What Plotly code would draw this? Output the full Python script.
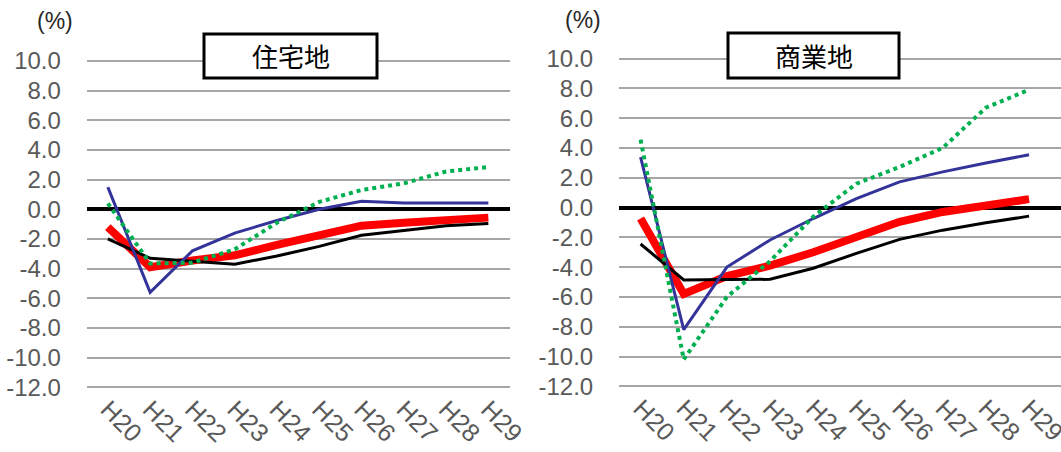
import plotly.graph_objects as go

W, H = 1061, 452

years = ["H20", "H21", "H22", "H23", "H24", "H25", "H26", "H27", "H28", "H29"]
y_ticks = [10, 8, 6, 4, 2, 0, -2, -4, -6, -8, -10, -12]
y_tick_text = ["10.0", "8.0", "6.0", "4.0", "2.0", "0.0", "-2.0", "-4.0", "-6.0", "-8.0", "-10.0", "-12.0"]

# 住宅地 (residential)
res_red = [-1.2, -3.9, -3.45, -3.1, -2.4, -1.7, -1.1, -0.9, -0.72, -0.56]
res_black = [-2.0, -3.3, -3.5, -3.7, -3.15, -2.5, -1.75, -1.4, -1.1, -0.95]
res_blue = [1.5, -5.6, -2.8, -1.6, -0.75, 0.0, 0.55, 0.42, 0.42, 0.42]
res_green = [0.4, -3.65, -3.6, -2.7, -0.9, 0.5, 1.3, 1.75, 2.55, 2.85]

# 商業地 (commercial)
com_red = [-0.74, -5.8, -4.6, -3.9, -3.0, -2.0, -0.96, -0.3, 0.15, 0.56]
com_black = [-2.45, -4.86, -4.84, -4.82, -4.08, -3.08, -2.14, -1.52, -1.03, -0.58]
com_blue = [3.38, -8.2, -4.0, -2.18, -0.74, 0.6, 1.72, 2.39, 2.99, 3.54]
com_green = [4.55, -10.2, -6.0, -3.6, -0.62, 1.6, 2.72, 4.0, 6.7, 7.9]

titles = ["住宅地", "商業地"]

RED = "#FF0000"
BLACK = "#000000"
BLUE = "#333399"
GREEN = "#00B050"
GRID = "#A6A6A6"
LABEL = "#595959"
FONT = "Liberation Sans, Arial, sans-serif"
CJK = "Noto Sans CJK JP, sans-serif"

fig = go.Figure()

series = [
    (res_red, com_red, RED, 8, "solid"),
    (res_black, com_black, BLACK, 3, "solid"),
    (res_blue, com_blue, BLUE, 3, "solid"),
    (res_green, com_green, GREEN, 4, "dot"),
]
for left, right, color, width, dash in series:
    fig.add_trace(go.Scatter(x=years, y=left, mode="lines", xaxis="x", yaxis="y",
                             line=dict(color=color, width=width, dash=dash), showlegend=False))
    fig.add_trace(go.Scatter(x=years, y=right, mode="lines", xaxis="x2", yaxis="y2",
                             line=dict(color=color, width=width, dash=dash), showlegend=False))


def ydomain(top_px, bot_px, pad=0.1):
    ppu = (bot_px - top_px) / 22.0
    t = top_px - pad * ppu
    b = bot_px + pad * ppu
    return [1 - b / H, 1 - t / H]


yax = dict(range=[-12.1, 10.1], tickvals=y_ticks, ticktext=y_tick_text,
           showgrid=True, gridcolor=GRID, gridwidth=1.5,
           zeroline=True, zerolinecolor=BLACK, zerolinewidth=4,
           ticks="outside", ticklen=20, tickcolor="rgba(0,0,0,0)", automargin=False,
           tickfont=dict(family=FONT, size=24, color=LABEL), showline=False, fixedrange=True)
xax = dict(type="category", showgrid=False, zeroline=False, showline=False, automargin=False,
           ticks="", tickangle=45,
           tickfont=dict(family=FONT, size=25, color=LABEL), fixedrange=True)

fig.update_layout(
    template="none",
    width=W, height=H,
    margin=dict(l=0, r=0, t=0, b=0, pad=0, autoexpand=False),
    paper_bgcolor="white", plot_bgcolor="white",
    xaxis=dict(xax, domain=[86.7 / W, 509.5 / W], anchor="y", range=[-0.5, 9.5]),
    yaxis=dict(yax, domain=ydomain(61, 387.3), anchor="x"),
    xaxis2=dict(xax, domain=[619 / W, 1.0], anchor="y2", range=[-0.5, 9.74]),
    yaxis2=dict(yax, domain=ydomain(58.5, 386.3), anchor="x2"),
)

boxes = [(204, 34, 377, 78), (728, 33, 899, 78)]
for (x0, y0, x1, y1), t in zip(boxes, titles):
    fig.add_shape(type="rect", xref="paper", yref="paper",
                  x0=x0 / W, x1=x1 / W, y0=1 - y1 / H, y1=1 - y0 / H,
                  line=dict(color=BLACK, width=3), fillcolor="white", layer="above")
    fig.add_annotation(xref="paper", yref="paper", x=(x0 + x1) / 2 / W, y=1 - (y0 + y1) / 2 / H,
                       text=t, showarrow=False, xanchor="center", yanchor="middle",
                       font=dict(family=CJK, size=26, color=BLACK))

for cx, cy in [(55, 21), (583, 20)]:
    fig.add_annotation(xref="paper", yref="paper", x=cx / W, y=1 - cy / H,
                       text="(%)", showarrow=False, xanchor="center", yanchor="middle",
                       font=dict(family=FONT, size=23, color="#262626"))

fig.write_html("out.html", config={"displayModeBar": False},
               post_script="document.body.style.margin='0';")
